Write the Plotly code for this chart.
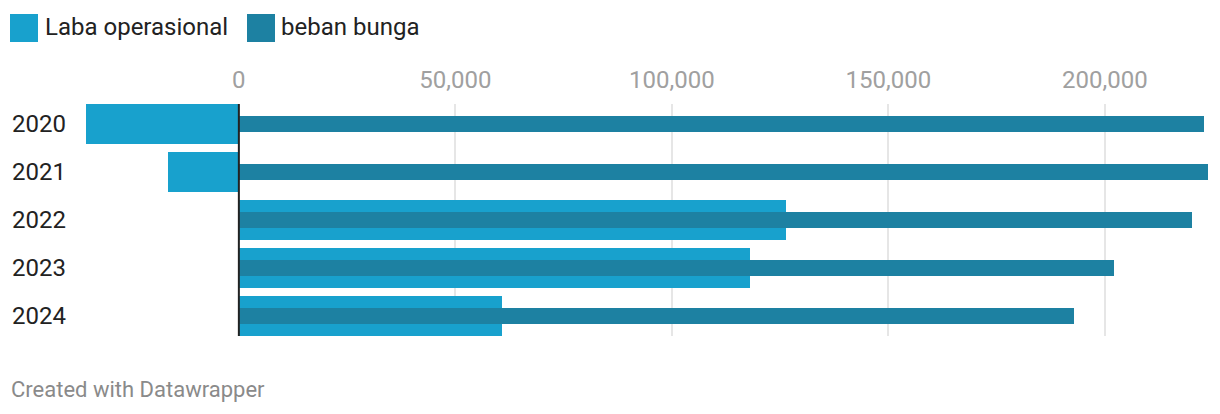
import plotly.graph_objects as go

years = ["2020", "2021", "2022", "2023", "2024"]
laba_operasional = [-35300, -16300, 126300, 118000, 60800]
beban_bunga = [222900, 223800, 220100, 202100, 192900]
x_ticks = [0, 50000, 100000, 150000, 200000]

C_LABA = "#18a1cd"
C_BEBAN = "#1d81a2"
FONT = "Roboto"

# page has an 8px body margin; size the figure to fill the rest
OFF = 8
W, H = 1220 - OFF, 414 - OFF
L, R, T, B = 86 - OFF, 12, 104 - OFF, 414 - 336
pw, ph = W - L - R, H - T - B

def px(x):
    return (x - OFF - L) / pw

def py(y):
    return (H - B - (y - OFF)) / ph

fig = go.Figure()
fig.add_trace(go.Bar(y=years, x=laba_operasional, orientation="h", name="Laba operasional",
                     marker=dict(color=C_LABA, line=dict(width=0)), width=40 / 48))
fig.add_trace(go.Bar(y=years, x=beban_bunga, orientation="h", name="beban bunga",
                     marker=dict(color=C_BEBAN, line=dict(width=0)), width=16 / 48))

xmin = min(laba_operasional + beban_bunga + [0])
xmax = max(laba_operasional + beban_bunga)

fig.update_layout(
    width=W, height=H,
    margin=dict(l=L, r=R, t=T, b=B, pad=0, autoexpand=False),
    paper_bgcolor="white", plot_bgcolor="white",
    barmode="overlay", bargap=0,
    showlegend=False,
    font=dict(family=FONT, color="#333333"),
    xaxis=dict(side="top", range=[xmin, xmax], tickvals=x_ticks, tickformat=",",
               showgrid=True, gridcolor="#e6e6e6", gridwidth=2,
               zeroline=False, showline=False, ticks="", automargin=False,
               tickfont=dict(family=FONT, size=24, color="#a0a0a0"),
               ticklabelstandoff=10, fixedrange=True),
    yaxis=dict(type="category", range=[len(years) - 1 + 20 / 48, -20 / 48],
               showgrid=False, zeroline=False, showline=False, ticks="", automargin=False,
               tickfont=dict(family=FONT, size=24, color="#222222"),
               ticklabelstandoff=19, fixedrange=True),
)

# zero line above bars
fig.add_shape(type="line", xref="x", yref="paper", x0=0, x1=0, y0=0, y1=1,
              line=dict(color="#222222", width=2), layer="above")

# custom legend: (label, colour, swatch left, text left)
legend_items = [("Laba operasional", C_LABA, 10, 43), ("beban bunga", C_BEBAN, 247, 279)]
for label, color, lx, tx in legend_items:
    fig.add_shape(type="rect", xref="paper", yref="paper",
                  x0=px(lx), x1=px(lx + 28), y0=py(42), y1=py(14),
                  fillcolor=color, line=dict(width=0), layer="above")
    fig.add_annotation(xref="paper", yref="paper", x=px(tx), y=py(27),
                       text=label, showarrow=False, xanchor="left", yanchor="middle",
                       font=dict(family=FONT, size=24, color="#222222"))

fig.add_annotation(xref="paper", yref="paper", x=px(9), y=py(389),
                   text="Created with Datawrapper", showarrow=False,
                   xanchor="left", yanchor="middle",
                   font=dict(family=FONT, size=22, color="#8a8a8a"))

fig.write_html("out.html")
